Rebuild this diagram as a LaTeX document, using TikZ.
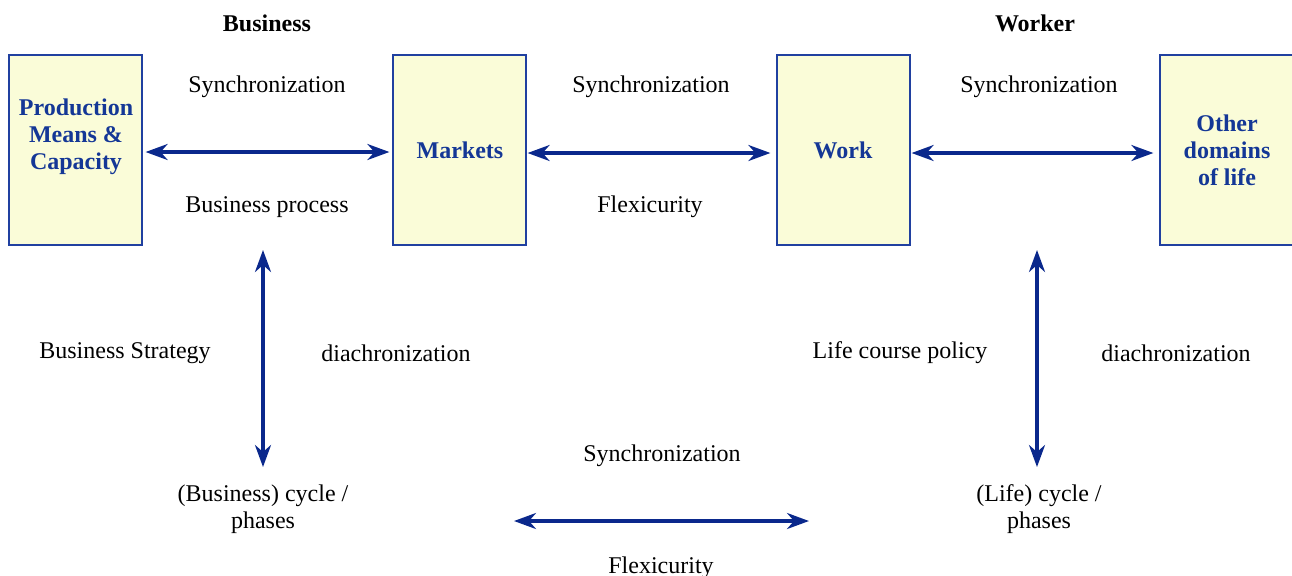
\documentclass[tikz,border=0pt]{standalone}
\usepackage{fontspec}
\setmainfont{Liberation Serif}
\usetikzlibrary{positioning,arrows.meta}
\definecolor{boxfill}{RGB}{250,252,216}
\definecolor{boxline}{RGB}{32,64,160}
\definecolor{arrblue}{RGB}{10,40,140}
\definecolor{txtblue}{RGB}{20,55,150}
\begin{document}
\begin{tikzpicture}[
		x=0.5pt, y=-0.5pt
		,every node/.append style={font=\fontsize{12}{13.5}\selectfont, inner sep=0pt}
		,box/.style={draw=boxline, fill=boxfill, line width=0.6pt, minimum width=66.5pt, minimum height=95pt}
		,bt/.style={text=txtblue, font=\fontsize{12}{13.5}\selectfont\bfseries, align=center}
		,lbl/.style={align=center}
		,both/.style={arrblue, line width=1.6pt, {Stealth[length=11pt,width=8pt,inset=3.5pt]}-{Stealth[length=11pt,width=8pt,inset=3.5pt]}}
	]
		\useasboundingbox (0,0) rectangle (1292,575);
		% boxes
		\node [box] (P) at (75.5,150) {};
		\node [box] (M) at (459.5,150) {};
		\node [box] (W) at (843.5,150) {};
		\node [box] (O) at (1226.5,150) {};
		\node [bt] (Pt) at (76,137) {Production\\Means \&\\Capacity};
		\node [bt] (Mt) at (460,150) {Markets};
		\node [bt] (Wt) at (843,150) {Work};
		\node [bt] (Ot) at (1227,150) {Other\\domains\\of life};
		% headings
		\node [font=\fontsize{12}{13.5}\selectfont\bfseries] (hB) at (267,23) {Business};
		\node [font=\fontsize{12}{13.5}\selectfont\bfseries] (hW) at (1035,23) {Worker};
		% labels
		\node (s1) at (267,87) {Synchronization};
		\node (s2) at (651,87) {Synchronization};
		\node (s3) at (1039,87) {Synchronization};
		\node (bp) at (267,207) {Business process};
		\node (fx) at (650,207) {Flexicurity};
		\node (bs) at (125,353) {Business Strategy};
		\node (d1) at (396,353) {diachronization};
		\node (lc) at (900,353) {Life course policy};
		\node (d2) at (1176,353) {diachronization};
		\node (s4) at (662,456) {Synchronization};
		\node [lbl] (bc) at (263,509) {(Business) cycle /\\phases};
		\node [lbl] (lf) at (1039,509) {(Life) cycle /\\phases};
		\node (fx2) at (661,568) {Flexicurity};
		% free ends
		\coordinate (v1a) at (263,250);
		\coordinate (v1b) at (263,467);
		\coordinate (v2a) at (1037,250);
		\coordinate (v2b) at (1037,467);
		\coordinate (h4a) at (514,521);
		\coordinate (h4b) at (809,521);
		% arrows
		\draw [both, shorten <=1.5pt, shorten >=1.5pt] (P.east|-0,152) -- (M.west|-0,152);
		\draw [both, shorten <=0.5pt, shorten >=3pt] (M.east|-0,153) -- (W.west|-0,153);
		\draw [both, shorten <=0.5pt, shorten >=3pt] (W.east|-0,153) -- (O.west|-0,153);
		\draw [both] (v1a) -- (v1b);
		\draw [both] (v2a) -- (v2b);
		\draw [both] (h4a) -- (h4b);
	\end{tikzpicture}
\end{document}
